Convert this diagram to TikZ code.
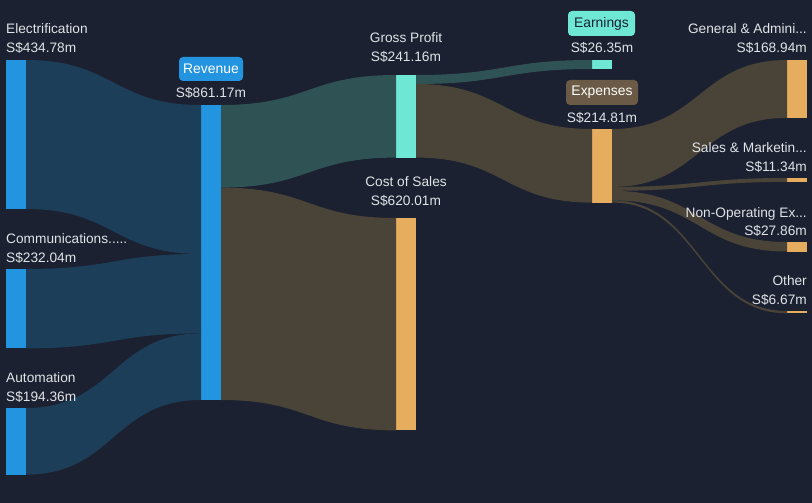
\documentclass[tikz,border=0pt]{standalone}
\usepackage{fontspec}
\setmainfont{Liberation Sans}
\usetikzlibrary{calc}
\definecolor{bg}{HTML}{1B2130}
\definecolor{barblue}{HTML}{2394DF}
\definecolor{barteal}{HTML}{6EE8D5}
\definecolor{barorange}{HTML}{E6AD5F}
\definecolor{flowblue}{HTML}{1D3E58}
\definecolor{flowteal}{HTML}{2F5254}
\definecolor{flowbrown}{HTML}{4A4438}
\definecolor{expbox}{HTML}{6B5A45}
\definecolor{txt}{HTML}{E0E3E7}
\newcommand\sflow[6]{%
  \fill[#6] let \p1=(#1.north east), \p2=(#3.north west), \n1={(\x1+\x2)/2} in
    (\x1,\y1-#2pt) .. controls (\n1,\y1-#2pt) and (\n1,\y2-#4pt) .. (\x2,\y2-#4pt)
    -- (\x2,\y2-#4pt-#5pt) .. controls (\n1,\y2-#4pt-#5pt) and (\n1,\y1-#2pt-#5pt) .. (\x1,\y1-#2pt-#5pt) -- cycle;}
\begin{document}
\begin{tikzpicture}[x=1pt,y=-1pt,
  bar/.style={anchor=north west,inner sep=0pt,outer sep=0pt,minimum width=20pt},
  lbl/.style={text=txt,font=\fontsize{13.7}{16}\selectfont,inner sep=0pt},
  tag/.style={rounded corners=4pt,inner sep=0pt,minimum height=24pt,font=\fontsize{13.9}{16}\selectfont}]
\fill[bg] (0,0) rectangle (812,503);
\useasboundingbox (0,0) rectangle (812,503);
% bars
\node[bar,fill=barblue,minimum height=149pt] (elec) at (6,60) {};
\node[bar,fill=barblue,minimum height=79.4pt] (comm) at (6,269) {};
\node[bar,fill=barblue,minimum height=66.6pt] (auto) at (6,408) {};
\node[bar,fill=barblue,minimum height=295pt] (rev) at (201,105) {};
\node[bar,fill=barteal,minimum height=82.6pt] (gp) at (396,75) {};
\node[bar,fill=barorange,minimum height=212.4pt] (cos) at (396,218) {};
\node[bar,fill=barteal,minimum height=9pt] (earn) at (592,60) {};
\node[bar,fill=barorange,minimum height=73.6pt] (exp) at (592,129) {};
\node[bar,fill=barorange,minimum height=57.9pt] (ga) at (787,60) {};
\node[bar,fill=barorange,minimum height=3.9pt] (sm) at (787,178) {};
\node[bar,fill=barorange,minimum height=9.5pt] (nonop) at (787,242) {};
\node[bar,fill=barorange,minimum height=2.3pt] (oth) at (787,311) {};
% flows
\sflow{elec}{0}{rev}{0}{149}{flowblue}
\sflow{comm}{0}{rev}{149}{79.4}{flowblue}
\sflow{auto}{0}{rev}{228.4}{66.6}{flowblue}
\sflow{rev}{0}{gp}{0}{82.6}{flowteal}
\sflow{rev}{82.6}{cos}{0}{212.4}{flowbrown}
\sflow{gp}{0}{earn}{0}{9}{flowteal}
\sflow{gp}{9}{exp}{0}{73.6}{flowbrown}
\sflow{exp}{0}{ga}{0}{57.9}{flowbrown}
\sflow{exp}{57.9}{sm}{0}{3.9}{flowbrown}
\sflow{exp}{61.8}{nonop}{0}{9.5}{flowbrown}
\sflow{exp}{71.3}{oth}{0}{2.3}{flowbrown}
% left labels
\node[lbl,anchor=base west] (telec) at (6,34) {Electrification};
\node[lbl,anchor=base west] (velec) at (6,53) {S\$434.78m};
\node[lbl,anchor=base west] (tcomm) at (6,243) {Communications.....};
\node[lbl,anchor=base west] (vcomm) at (6,262) {S\$232.04m};
\node[lbl,anchor=base west] (tauto) at (6,382) {Automation};
\node[lbl,anchor=base west] (vauto) at (6,401) {S\$194.36m};
% revenue
\node[tag,fill=barblue,text=white,minimum width=64pt] (trev) at (211,69) {Revenue};
\node[lbl,anchor=base] (vrev) at (211,98) {S\$861.17m};
% gross profit / cost of sales
\node[lbl,anchor=base] (tgp) at (406,43) {Gross Profit};
\node[lbl,anchor=base] (vgp) at (406,62) {S\$241.16m};
\node[lbl,anchor=base] (tcos) at (406,186) {Cost of Sales};
\node[lbl,anchor=base] (vcos) at (406,205) {S\$620.01m};
% earnings / expenses
\node[tag,fill=barteal,text=bg,minimum width=67pt,minimum height=25pt] (tearn) at (601.5,23.5) {Earnings};
\node[lbl,anchor=base] (vearn) at (602,53) {S\$26.35m};
\node[tag,fill=expbox,text=white,minimum width=72pt,minimum height=25pt] (texp) at (602,92.5) {Expenses};
\node[lbl,anchor=base] (vexp) at (602,122) {S\$214.81m};
% right labels
\node[lbl,anchor=base east] (tga) at (807,34) {General \& Admini...};
\node[lbl,anchor=base east] (vga) at (807,53) {S\$168.94m};
\node[lbl,anchor=base east] (tsm) at (807,152) {Sales \& Marketin...};
\node[lbl,anchor=base east] (vsm) at (807,171) {S\$11.34m};
\node[lbl,anchor=base east] (tno) at (807,217) {Non-Operating Ex...};
\node[lbl,anchor=base east] (vno) at (807,235) {S\$27.86m};
\node[lbl,anchor=base east] (toth) at (807,285) {Other};
\node[lbl,anchor=base east] (voth) at (807,304) {S\$6.67m};
\end{tikzpicture}
\end{document}
